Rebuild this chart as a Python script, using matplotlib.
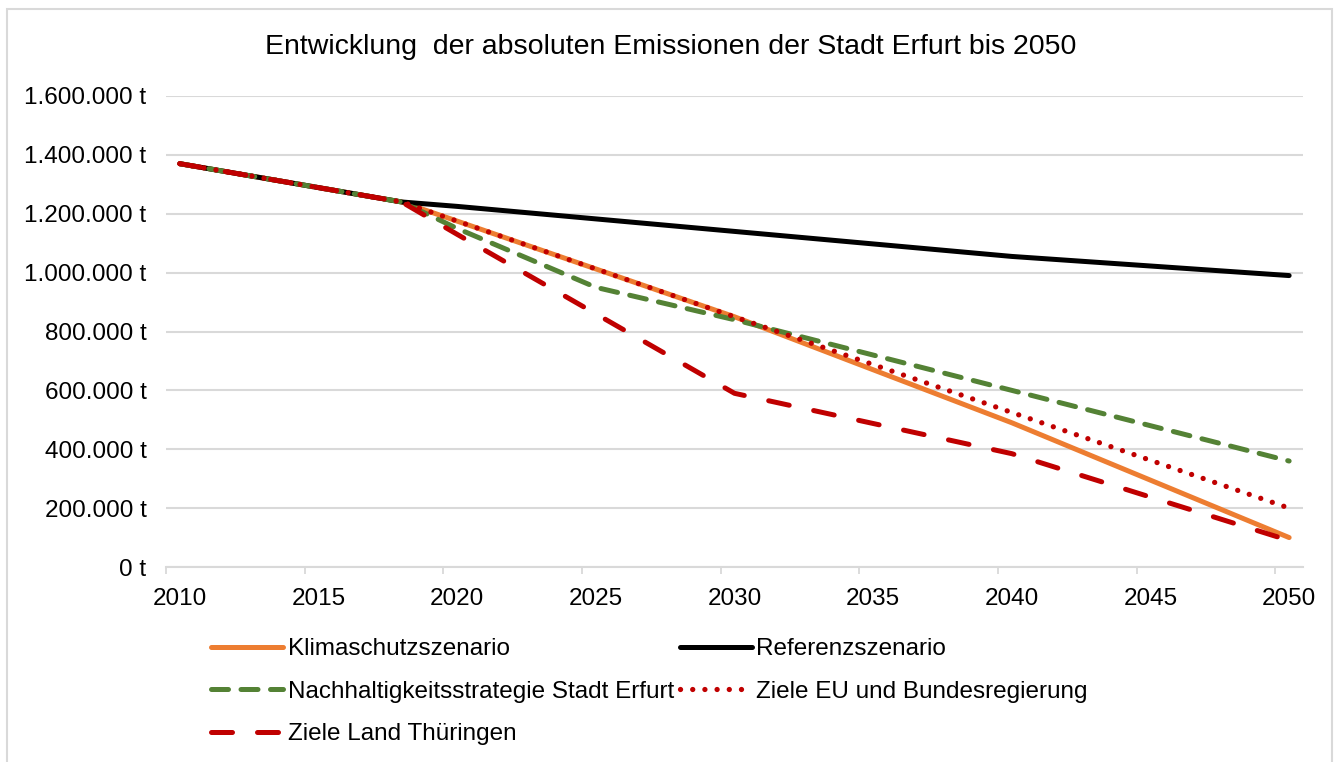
import numpy as np
import matplotlib
matplotlib.use("Agg")
import matplotlib.pyplot as plt
from matplotlib.ticker import FuncFormatter, FixedLocator
from matplotlib.patches import Rectangle

plt.rcParams['font.family'] = ['Liberation Sans', 'DejaVu Sans']

# Stuetzjahre und Werte (t CO2)
years_klima = [2010, 2018, 2030, 2040, 2050]
klima = [1370000, 1240000, 850000, 490000, 100000]

years_ref = [2010, 2018, 2020, 2030, 2040, 2050]
ref = [1370000, 1240000, 1225000, 1140000, 1055000, 990000]

years_nach = [2010, 2018, 2020, 2025, 2030, 2040, 2050]
nach = [1370000, 1240000, 1150000, 950000, 840000, 600000, 360000]

years_eu = [2010, 2018, 2050]
eu = [1370000, 1240000, 200000]

years_land = [2010, 2018, 2020, 2030, 2040, 2050]
land = [1370000, 1240000, 1130000, 590000, 385000, 90000]

labels = ["Klimaschutzszenario", "Referenzszenario",
          "Nachhaltigkeitsstrategie Stadt Erfurt",
          "Ziele EU und Bundesregierung", "Ziele Land Thüringen"]
title = "Entwicklung  der absoluten Emissionen der Stadt Erfurt bis 2050"

W, H = 1341, 762
fig = plt.figure(figsize=(W / 100, H / 100), dpi=100)
ax = fig.add_axes([166 / W, 1 - 567 / H, (1303 - 166) / W, (567 - 96) / H])

lw = 3.6
h_klima, = ax.plot(years_klima, klima, color='#ED7D31', lw=lw,
                   solid_capstyle='round', solid_joinstyle='round')
h_ref, = ax.plot(years_ref, ref, color='black', lw=lw,
                 solid_capstyle='round', solid_joinstyle='round')
h_nach, = ax.plot(years_nach, nach, color='#548235', lw=lw,
                  dashes=(3.4, 2.5), dash_capstyle='round')
h_eu, = ax.plot(years_eu, eu, color='#C00000', lw=3.8,
                dashes=(0.01, 2.3), dash_capstyle='round')
h_land, = ax.plot(years_land, land, color='#C00000', lw=lw,
                  dashes=(4.2, 5.0), dash_capstyle='round')

ax.set_xlim(2009.5, 2050.5)
ax.set_ylim(0, 1600000)

fs = 17.5
ax.set_xticks(range(2010, 2051, 5))
ax.tick_params(axis='x', which='major', length=0, pad=15, labelsize=fs)
ax.xaxis.set_minor_locator(FixedLocator(np.arange(2009.5, 2050, 5)))
ax.tick_params(axis='x', which='minor', length=5, width=1.3, color='#D9D9D9')

ax.set_yticks(range(0, 1600001, 200000))
ax.yaxis.set_major_formatter(FuncFormatter(
    lambda v, p: "{:,.0f} t".format(v).replace(",", ".")))
ax.tick_params(axis='y', length=0, pad=14, labelsize=fs)

ax.grid(axis='y', color='#D9D9D9', lw=1.5)
ax.set_axisbelow(True)
for s in ['top', 'right', 'left']:
    ax.spines[s].set_visible(False)
ax.spines['bottom'].set_color('#D9D9D9')
ax.spines['bottom'].set_linewidth(1.5)

fig.text(0.5, 1 - 47 / H, title, ha='center', va='center', fontsize=20.5)

handles = [h_klima, h_nach, h_land, h_ref, h_eu]
hl = [labels[0], labels[2], labels[4], labels[1], labels[3]]
fig.legend(handles, hl, loc='upper left', bbox_to_anchor=(211 / W, 1 - 638 / H),
           ncol=2, frameon=False, fontsize=fs, handlelength=2.95,
           handletextpad=0.2, columnspacing=0.25, labelspacing=0.85,
           borderpad=0, borderaxespad=0)

fig.patches.append(Rectangle((7 / W, -0.05), (1332 - 7) / W, 1.05 - 9 / H,
                             transform=fig.transFigure, fill=False,
                             edgecolor='#D9D9D9', lw=1.5))

fig.savefig("out.png", dpi=100)
